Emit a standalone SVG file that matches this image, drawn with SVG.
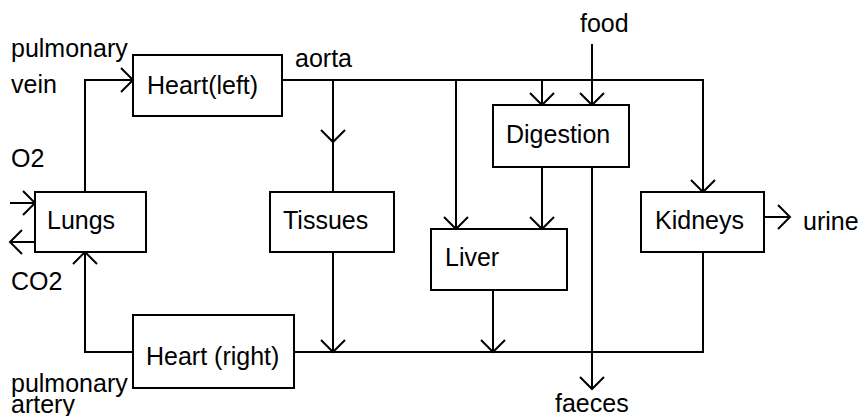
<svg xmlns="http://www.w3.org/2000/svg" width="860" height="416" viewBox="0 0 860 416">
<defs>
<style>
.box{fill:#fff;stroke:#000;stroke-width:2}
.ln{fill:none;stroke:#000;stroke-width:2}
text{font-family:"Liberation Sans",Arial,sans-serif;font-size:25px;fill:#000}
</style>
<marker id="ah" viewBox="-13 -13 15 26" refX="0" refY="0" markerWidth="15" markerHeight="26" markerUnits="userSpaceOnUse" orient="auto">
<path d="M-12,-12 L0,0 L-12,12" fill="none" stroke="#000" stroke-width="2"/>
</marker>
</defs>
<rect width="860" height="416" fill="#fff"/>
<g id="connectors">
<path class="ln" d="M85,192 V80 H133" marker-end="url(#ah)"/>
<path class="ln" d="M10,203 H35" marker-end="url(#ah)"/>
<path class="ln" d="M35,242 H10" marker-end="url(#ah)"/>
<path class="ln" d="M133,352 H85 V252" marker-end="url(#ah)"/>
<path class="ln" d="M282,80 H703 V192" marker-end="url(#ah)"/>
<path class="ln" d="M333,80 V142" marker-end="url(#ah)"/>
<path class="ln" d="M333,142 V192"/>
<path class="ln" d="M456,80 V229" marker-end="url(#ah)"/>
<path class="ln" d="M542,80 V105" marker-end="url(#ah)"/>
<path class="ln" d="M592,44 V105" marker-end="url(#ah)"/>
<path class="ln" d="M542,167 V229" marker-end="url(#ah)"/>
<path class="ln" d="M592,167 V389" marker-end="url(#ah)"/>
<path class="ln" d="M703,252 V352 H294"/>
<path class="ln" d="M333,252 V352" marker-end="url(#ah)"/>
<path class="ln" d="M493,290 V352" marker-end="url(#ah)"/>
<path class="ln" d="M764,217 H790" marker-end="url(#ah)"/>
</g>
<g id="heart-left"><rect class="box" x="133" y="55" width="149" height="61"/><text x="147" y="94">Heart(left)</text></g>
<g id="lungs"><rect class="box" x="35" y="192" width="111" height="60"/><text x="47" y="229">Lungs</text></g>
<g id="tissues"><rect class="box" x="270" y="192" width="124" height="60"/><text x="283" y="229">Tissues</text></g>
<g id="digestion"><rect class="box" x="493" y="105" width="136" height="62"/><text x="506" y="143">Digestion</text></g>
<g id="liver"><rect class="box" x="431" y="229" width="136" height="61"/><text x="445" y="266">Liver</text></g>
<g id="kidneys"><rect class="box" x="641" y="192" width="123" height="60"/><text x="655" y="229">Kidneys</text></g>
<g id="heart-right"><rect class="box" x="133" y="315" width="161" height="73"/><text x="146" y="365">Heart (right)</text></g>
<g id="labels">
<text x="11" y="57">pulmonary</text>
<text x="11" y="93">vein</text>
<text x="11" y="167">O2</text>
<text x="11" y="290">CO2</text>
<text x="11" y="392">pulmonary</text>
<text x="11" y="413">artery</text>
<text x="295" y="67">aorta</text>
<text x="580" y="32">food</text>
<text x="555" y="412">faeces</text>
<text x="803" y="230">urine</text>
</g>
</svg>
